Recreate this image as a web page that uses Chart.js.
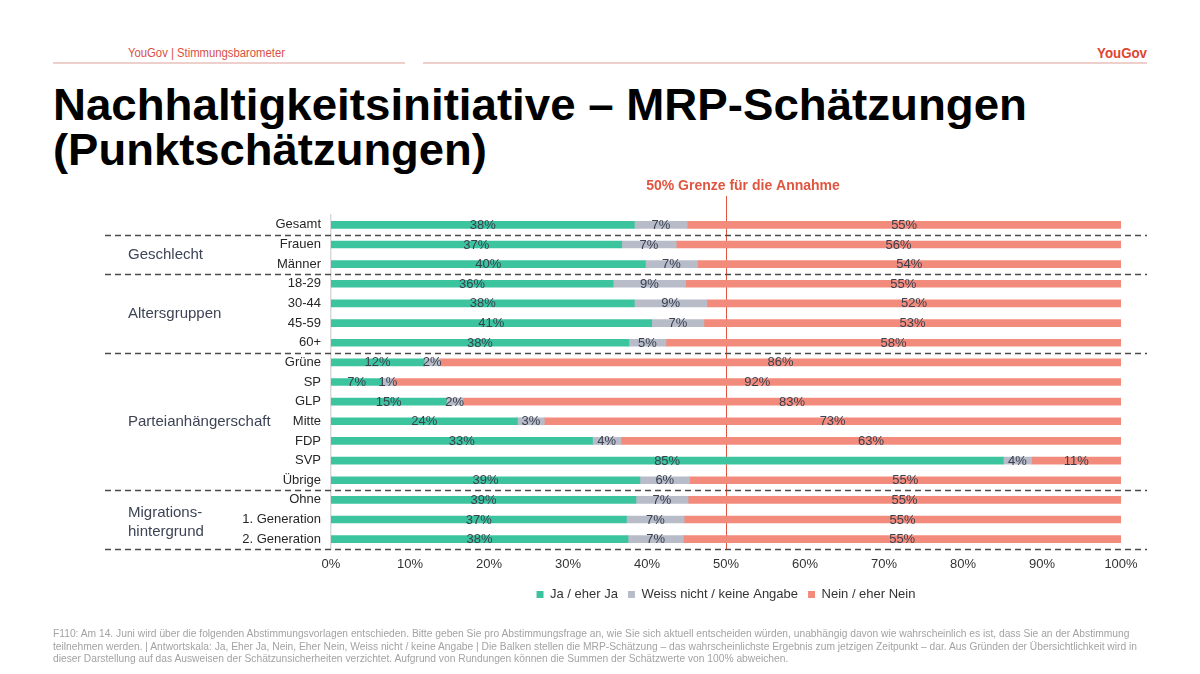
<!DOCTYPE html>
<html><head><meta charset="utf-8">
<script src="https://cdn.jsdelivr.net/npm/chart.js@4.4.1/dist/chart.umd.min.js"></script>
<style>
html,body{margin:0;padding:0;background:#fff}
body{width:1200px;height:674px;overflow:hidden;position:relative;font-family:"Liberation Sans",Arial,sans-serif}
.abs{position:absolute;white-space:nowrap}
.narrow{font-family:"Liberation Sans Narrow","Arial Narrow","Liberation Sans",Arial,sans-serif}
.ttl{font-size:45px;line-height:46px;font-weight:bold;color:#000}
</style></head><body>
<div class="abs narrow" id="hdr" style="left:128px;top:46px;font-size:12px;line-height:14px;color:#d9503f">YouGov | Stimmungsbarometer</div>
<div class="abs" style="left:53px;top:62px;width:352px;height:2px;background:#edd0cc"></div>
<div class="abs" style="left:423px;top:62px;width:724px;height:2px;background:#edd0cc"></div>
<div class="abs narrow" id="logo" style="left:1097px;top:45px;font-size:14px;line-height:16px;font-weight:bold;color:#e0452f">YouGov</div>
<div class="abs ttl" id="t1" style="left:53px;top:82px">Nachhaltigkeitsinitiative – MRP-Schätzungen</div>
<div class="abs ttl" id="t2" style="left:53px;top:127px">(Punktschätzungen)</div>
<canvas id="c" width="1200" height="674" class="abs" style="left:0;top:0;width:1200px;height:674px"></canvas>
<div class="abs narrow" id="fn" style="left:53px;top:628px;font-size:10px;line-height:12.5px;color:#a3a3a3">
<div id="f1">F110: Am 14. Juni wird über die folgenden Abstimmungsvorlagen entschieden. Bitte geben Sie pro Abstimmungsfrage an, wie Sie sich aktuell entscheiden würden, unabhängig davon wie wahrscheinlich es ist, dass Sie an der Abstimmung</div>
<div>teilnehmen werden. | Antwortskala: Ja, Eher Ja, Nein, Eher Nein, Weiss nicht / keine Angabe | Die Balken stellen die MRP-Schätzung – das wahrscheinlichste Ergebnis zum jetzigen Zeitpunkt – dar. Aus Gründen der Übersichtlichkeit wird in</div>
<div>dieser Darstellung auf das Ausweisen der Schätzunsicherheiten verzichtet. Aufgrund von Rundungen können die Summen der Schätzwerte von 100% abweichen.</div>
</div>
<script>
// ---- data ----
const categories = ['Gesamt','Frauen','Männer','18-29','30-44','45-59','60+','Grüne','SP','GLP','Mitte','FDP','SVP','Übrige','Ohne','1. Generation','2. Generation'];
const jaValues    = [38.4, 36.8, 39.8, 35.7, 38.4, 40.6, 37.7, 11.8, 6.5, 14.6, 23.6, 33.1, 85.1, 39.1, 38.6, 37.4, 37.6];
const weissValues = [6.7, 6.9, 6.6, 9.2, 9.2, 6.6, 4.7, 2.0, 1.4, 2.1, 3.4, 3.6, 3.6, 6.3, 6.6, 7.3, 7.0];
const neinValues  = [54.9, 56.3, 53.6, 55.1, 52.4, 52.8, 57.6, 86.2, 92.1, 83.3, 73.0, 63.3, 11.3, 54.6, 54.8, 55.3, 55.4];
const seriesNames = ['Ja / eher Ja','Weiss nicht / keine Angabe','Nein / eher Nein'];
const xTickLabels = ['0%','10%','20%','30%','40%','50%','60%','70%','80%','90%','100%'];
const groupNames = ['Geschlecht','Altersgruppen','Parteianhängerschaft','Migrations-\nhintergrund'];
const groupFirst = [1, 3, 7, 14];
const groupLast  = [2, 6, 13, 16];
const separatorAfter = [0, 2, 6, 13, 16];
const thresholdValue = 50;
const thresholdLabel = '50% Grenze für die Annahme';

// ---- text fitting ----
function fit(id, w){
  const el = document.getElementById(id);
  const r = el.getBoundingClientRect().width;
  el.style.transformOrigin = '0 0';
  el.style.transform = 'scaleX(' + (w / r) + ')';
  return w / r;
}
fit('hdr', 157); fit('logo', 50); fit('t1', 974); fit('t2', 434);
(function(){
  const f1 = document.getElementById('f1');
  const r = f1.getBoundingClientRect().width;
  const fn = document.getElementById('fn');
  fn.style.transformOrigin = '0 0';
  fn.style.transform = 'scaleX(' + (1084 / r) + ')';
})();

Chart.defaults.font.family = "'Liberation Sans', Arial, sans-serif";

const overlay = {
  id: 'overlay',
  beforeDatasetsDraw(chart){
    const {ctx, chartArea, scales:{x}} = chart;
    const px = Math.round(x.getPixelForValue(thresholdValue)) + 0.5;
    ctx.save();
    ctx.strokeStyle = '#e0553f'; ctx.lineWidth = 1;
    ctx.beginPath(); ctx.moveTo(px, 196); ctx.lineTo(px, chartArea.bottom); ctx.stroke();
    ctx.restore();
  },
  afterDatasetsDraw(chart){
    const {ctx} = chart;
    ctx.save();
    ctx.font = "13px 'Liberation Sans', Arial, sans-serif";
    ctx.fillStyle = '#3b4150';
    ctx.textAlign = 'center'; ctx.textBaseline = 'middle';
    chart.data.datasets.forEach((ds, di) => {
      const meta = chart.getDatasetMeta(di);
      meta.data.forEach((el, i) => {
        const v = ds.data[i];
        ctx.fillText(Math.round(v) + '%', (el.x + el.base) / 2, el.y + 0.5);
      });
    });
    ctx.restore();
  },
  afterDraw(chart){
    const {ctx, chartArea, scales:{x, y}} = chart;
    ctx.save();
    // separators
    ctx.strokeStyle = '#4a4a4a'; ctx.lineWidth = 1.5; ctx.setLineDash([6, 4]);
    separatorAfter.forEach(k => {
      const yy = k + 1 < categories.length ? (y.getPixelForValue(k) + y.getPixelForValue(k + 1)) / 2 : chartArea.bottom;
      ctx.beginPath(); ctx.moveTo(105, Math.round(yy) + 0.5); ctx.lineTo(1147, Math.round(yy) + 0.5); ctx.stroke();
    });
    ctx.setLineDash([]);
    // group labels
    ctx.font = "15px 'Liberation Sans', Arial, sans-serif";
    ctx.fillStyle = '#3d4456'; ctx.textAlign = 'left'; ctx.textBaseline = 'middle';
    groupNames.forEach((g, i) => {
      const cy = (y.getPixelForValue(groupFirst[i]) + y.getPixelForValue(groupLast[i])) / 2 + 1;
      const lines = g.split('\n');
      const lh = 19;
      const off = lines.length > 1 ? 2 : 0;
      lines.forEach((ln, j) => ctx.fillText(ln, 128, cy + off + (j - (lines.length - 1) / 2) * lh));
    });
    // threshold label
    ctx.font = "bold 14px 'Liberation Sans', Arial, sans-serif";
    ctx.fillStyle = '#e0553f'; ctx.textAlign = 'center';
    ctx.fillText(thresholdLabel, x.getPixelForValue(thresholdValue) + 17, 186.5);
    ctx.restore();
  }
};

new Chart(document.getElementById('c'), {
  type: 'bar',
  data: {
    labels: categories,
    datasets: [
      {label: seriesNames[0], data: jaValues, backgroundColor: '#3cc49f', borderWidth: 0},
      {label: seriesNames[1], data: weissValues, backgroundColor: '#b8bcc9', borderWidth: 0},
      {label: seriesNames[2], data: neinValues, backgroundColor: '#f38b7c', borderWidth: 0}
    ]
  },
  options: {
    indexAxis: 'y',
    responsive: false,
    animation: false,
    devicePixelRatio: 1,
    barThickness: 7,
    layout: {padding: {left: 0, right: 79, top: 215, bottom: 63}},
    scales: {
      x: {
        stacked: true, min: 0, max: 100,
        grid: {display: false, drawTicks: false},
        border: {display: false},
        ticks: {stepSize: 10, padding: 8, color: '#333', font: {size: 13},
          callback: (v) => xTickLabels[Math.round(v / 10)]},
        afterFit: (s) => { s.height = 29; }
      },
      y: {
        stacked: true,
        grid: {display: false, drawTicks: false},
        border: {display: true, color: '#d9d9d9', width: 1.5},
        ticks: {padding: 10, color: '#262626', font: {size: 13}, autoSkip: false},
        afterFit: (s) => { s.width = 331; }
      }
    },
    plugins: {
      legend: {
        position: 'bottom', fullSize: false,
        labels: {boxWidth: 7, boxHeight: 7, padding: 10, color: '#333', font: {size: 13}}
      },
      tooltip: {enabled: false}
    }
  },
  plugins: [overlay]
});
</script>
</body></html>
